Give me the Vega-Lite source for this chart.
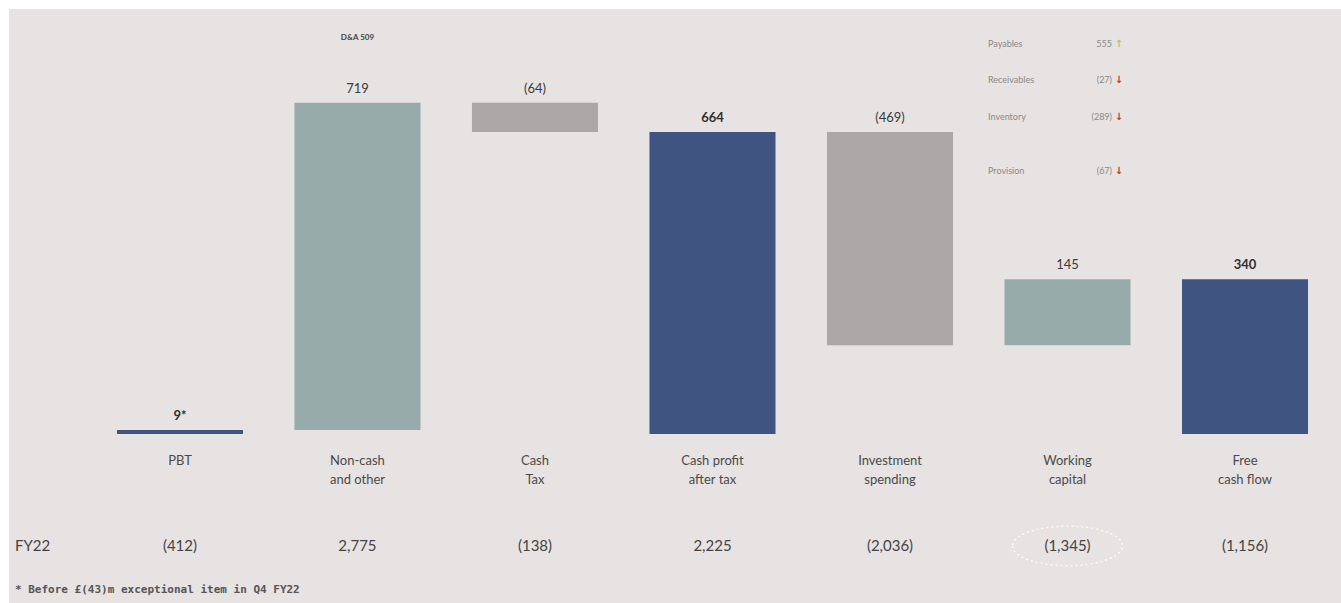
{
  "$schema": "https://vega.github.io/schema/vega-lite/v6.json",
  "width": 1341,
  "height": 603,
  "autosize": {"type": "fit", "contains": "padding"},
  "padding": {"left": 9, "top": 9, "right": 0, "bottom": 0},
  "background": "white",
  "config": {"view": {"fill": "#e7e3e2", "stroke": null}, "font": "Lato"},
  "datasets": {
    "bars": [
      {"cat": "PBT", "name": ["PBT"], "lo": 0, "hi": 9, "kind": "total", "label": "9*", "fy22": "(412)"},
      {"cat": "Non-cash and other", "name": ["Non-cash", "and other"], "lo": 9, "hi": 728, "kind": "increase", "label": "719", "fy22": "2,775"},
      {"cat": "Cash Tax", "name": ["Cash", "Tax"], "lo": 664, "hi": 728, "kind": "decrease", "label": "(64)", "fy22": "(138)"},
      {"cat": "Cash profit after tax", "name": ["Cash profit", "after tax"], "lo": 0, "hi": 664, "kind": "total", "label": "664", "fy22": "2,225"},
      {"cat": "Investment spending", "name": ["Investment", "spending"], "lo": 195, "hi": 664, "kind": "decrease", "label": "(469)", "fy22": "(2,036)"},
      {"cat": "Working capital", "name": ["Working", "capital"], "lo": 195, "hi": 340, "kind": "increase", "label": "145", "fy22": "(1,345)"},
      {"cat": "Free cash flow", "name": ["Free", "cash flow"], "lo": 0, "hi": 340, "kind": "total", "label": "340", "fy22": "(1,156)"}
    ],
    "wc": [
      {"item": "Payables", "val": "555", "arrow": "↑", "dir": "up"},
      {"item": "Receivables", "val": "(27)", "arrow": "↓", "dir": "down"},
      {"item": "Inventory", "val": "(289)", "arrow": "↓", "dir": "down"},
      {"item": "Provision", "val": "(67)", "arrow": "↓", "dir": "down"}
    ]
  },
  "resolve": {"scale": {"y": "independent"}},
  "layer": [
    {
      "layer": [
        {
          "data": {"name": "bars"},
          "encoding": {
            "x": {
              "field": "cat", "type": "nominal", "sort": null,
              "scale": {
                "domain": ["PBT", "Non-cash and other", "Cash Tax", "Cash profit after tax", "Investment spending", "Working capital", "Free cash flow"],
                "paddingInner": 0.29, "paddingOuter": 0.397, "align": 0.766
              },
              "axis": null
            }
          },
          "layer": [
            {
              "mark": {"type": "bar"},
              "encoding": {
                "y": {"field": "lo", "type": "quantitative", "scale": {"domain": [-371.4, 934.1], "nice": false, "zero": false}, "axis": null},
                "y2": {"field": "hi"},
                "color": {"field": "kind", "type": "nominal", "scale": {"domain": ["total", "increase", "decrease"], "range": ["#3f5480", "#97abab", "#aba8a7"]}, "legend": null}
              }
            },
            {
              "transform": [{"filter": "datum.kind === 'total'"}],
              "mark": {"type": "text", "baseline": "middle", "dy": -14, "fontSize": 13, "fontWeight": "bold", "color": "#2f2f2f"},
              "encoding": {"y": {"field": "hi", "type": "quantitative"}, "text": {"field": "label"}}
            },
            {
              "transform": [{"filter": "datum.kind !== 'total'"}],
              "mark": {"type": "text", "baseline": "middle", "dy": -14, "fontSize": 13, "color": "#3a3a3a"},
              "encoding": {"y": {"field": "hi", "type": "quantitative"}, "text": {"field": "label"}}
            },
            {
              "mark": {"type": "text", "baseline": "top", "lineHeight": 19, "fontSize": 13, "color": "#4a4a4a"},
              "encoding": {"y": {"datum": -46}, "text": {"field": "name"}}
            },
            {
              "mark": {"type": "text", "baseline": "middle", "fontSize": 15, "color": "#444444"},
              "encoding": {"y": {"datum": -246}, "text": {"field": "fy22"}}
            }
          ]
        },
        {
          "mark": {"type": "rule", "color": "#f1efee", "strokeWidth": 2},
          "encoding": {"y": {"datum": -198}}
        },
        {
          "mark": {"type": "rule", "color": "#f1efee", "strokeWidth": 2},
          "encoding": {"y": {"datum": -290}}
        },
        {
          "data": {"values": [{"t": "FY22"}]},
          "mark": {"type": "text", "align": "left", "baseline": "middle", "dx": -165, "fontSize": 15, "color": "#444444"},
          "encoding": {"x": {"datum": "PBT"}, "y": {"datum": -246}, "text": {"field": "t"}}
        },
        {
          "data": {"values": [{"t": "* Before £(43)m exceptional item in Q4 FY22"}]},
          "mark": {"type": "text", "align": "left", "baseline": "middle", "dx": -165, "fontSize": 11, "font": "DejaVu Sans Mono", "fontWeight": "bold", "color": "#555555"},
          "encoding": {"x": {"datum": "PBT"}, "y": {"datum": -343}, "text": {"field": "t"}}
        },
        {
          "data": {"values": [{"t": "D&A 509"}]},
          "mark": {"type": "text", "baseline": "middle", "fontSize": 8, "fontWeight": "bold", "color": "#444444"},
          "encoding": {"x": {"datum": "Non-cash and other"}, "y": {"datum": 870}, "text": {"field": "t"}}
        },
        {
          "data": {"values": [{"t": "ring"}]},
          "mark": {"type": "point", "filled": false, "shape": "M -1 0 A 1 0.36 0 1 0 1 0 A 1 0.36 0 1 0 -1 0 Z", "size": 12100, "stroke": "#ffffff", "strokeWidth": 1.5, "strokeDash": [2, 3], "opacity": 0.9},
          "encoding": {"x": {"datum": "Working capital"}, "y": {"datum": -246}}
        }
      ]
    },
    {
      "data": {"name": "wc"},
      "encoding": {
        "x": {"datum": "Working capital"},
        "y": {
          "field": "item", "type": "nominal",
          "scale": {"type": "point", "domain": ["Payables", "_a", "Receivables", "_b", "Inventory", "_c", "_d", "Provision"], "range": [35, 162], "padding": 0},
          "axis": null
        }
      },
      "layer": [
        {
          "mark": {"type": "text", "align": "left", "baseline": "middle", "dx": -79.5, "fontSize": 9, "color": "#8a8888"},
          "encoding": {"text": {"field": "item"}}
        },
        {
          "mark": {"type": "text", "align": "right", "baseline": "middle", "dx": 44.5, "fontSize": 9, "color": "#8a8888"},
          "encoding": {"text": {"field": "val"}}
        },
        {
          "mark": {"type": "text", "align": "center", "baseline": "middle", "dx": 51.5, "fontSize": 10, "fontWeight": "bold", "font": "DejaVu Sans"},
          "encoding": {
            "text": {"field": "arrow"},
            "color": {"condition": {"test": "datum.dir === 'up'", "value": "#b8bf72"}, "value": "#c0392b"}
          }
        }
      ]
    }
  ]
}
